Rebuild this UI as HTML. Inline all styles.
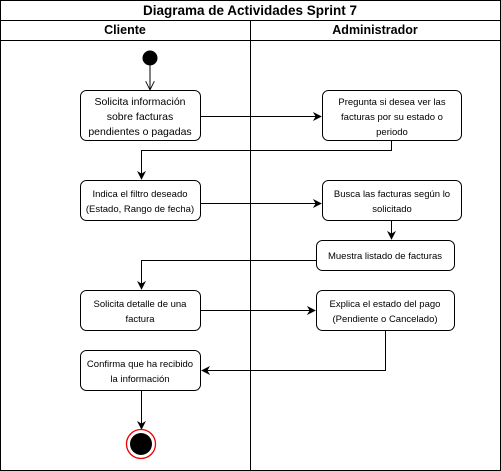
<!DOCTYPE html>
<html><head><style>body{margin:0;background:#fff}svg{display:block}text{font-family:"Liberation Sans",Arial,sans-serif;fill:#000}</style></head><body>
<svg width="501" height="471" viewBox="0 0 501 471" xmlns="http://www.w3.org/2000/svg">
<defs><marker id="a" viewBox="0 0 10 10" refX="9" refY="5" markerWidth="9" markerHeight="9" markerUnits="userSpaceOnUse" orient="auto"><path d="M0,0 L10,5 L0,10 L3,5 z" fill="#000"/></marker>
<marker id="o" viewBox="0 0 10 10" refX="9" refY="5" markerWidth="9" markerHeight="9" markerUnits="userSpaceOnUse" orient="auto"><path d="M0,0 L10,5 L0,10" fill="none" stroke="#000"/></marker></defs>
<rect x="0.5" y="0.5" width="500" height="470" fill="#fff" stroke="#000"/>
<line x1="0" y1="20.5" x2="501" y2="20.5" stroke="#000"/>
<line x1="0" y1="40.5" x2="501" y2="40.5" stroke="#000"/>
<line x1="250.5" y1="20" x2="250.5" y2="471" stroke="#000"/>
<text x="250" y="15" font-size="13.5" font-weight="bold" text-anchor="middle">Diagrama de Actividades Sprint 7</text>
<text x="125" y="34" font-size="12.5" font-weight="bold" text-anchor="middle">Cliente</text>
<text x="375" y="34" font-size="12.5" font-weight="bold" text-anchor="middle">Administrador</text>
<circle cx="150" cy="58" r="7.5" fill="#000"/>
<line x1="150" y1="65" x2="150" y2="89" stroke="#000" marker-end="url(#o)"/>
<g fill="#fff" stroke="#000">
<rect x="80.5" y="90.5" width="120" height="50" rx="6"/>
<rect x="322.5" y="90.5" width="139" height="50" rx="6"/>
<rect x="80.5" y="180.5" width="120" height="40" rx="6"/>
<rect x="322.5" y="180.5" width="139" height="40" rx="6"/>
<rect x="316.5" y="240.5" width="138" height="30" rx="6"/>
<rect x="80.5" y="290.5" width="120" height="40" rx="6"/>
<rect x="316.5" y="290.5" width="138" height="40" rx="6"/>
<rect x="80.5" y="350.5" width="120" height="40" rx="6"/>
</g>
<g fill="none" stroke="#000">
<path d="M200.5 116.5H321" marker-end="url(#a)"/>
<path d="M391.5 140.5V150.5H141.5V179" marker-end="url(#a)"/>
<path d="M200.5 203.5H321" marker-end="url(#a)"/>
<path d="M391.5 220.5V239" marker-end="url(#a)"/>
<path d="M316.5 260.5H141.5V289" marker-end="url(#a)"/>
<path d="M200.5 310.5H315" marker-end="url(#a)"/>
<path d="M385.5 330.5V370.5H202" marker-end="url(#a)"/>
<path d="M141.5 390.5V429" marker-end="url(#a)"/>
</g>
<circle cx="141" cy="444" r="14.5" fill="#fff" stroke="#e00" stroke-width="1.3"/>
<circle cx="141" cy="444" r="11" fill="#000"/>
<g font-size="10.5" text-anchor="middle">
<text x="140" y="105">Solicita información</text>
<text x="140" y="120">sobre facturas</text>
<text x="140" y="135">pendientes o pagadas</text>
</g>
<g font-size="9.5" text-anchor="middle">
<text x="392" y="105">Pregunta si desea ver las</text>
<text x="392" y="120">facturas por su estado o</text>
<text x="392" y="135">periodo</text>
<text x="140" y="197">Indica el filtro deseado</text>
<text x="140" y="212">(Estado, Rango de fecha)</text>
<text x="392" y="197">Busca las facturas según lo</text>
<text x="392" y="212">solicitado</text>
<text x="385" y="259">Muestra listado de facturas</text>
<text x="140" y="307">Solicita detalle de una</text>
<text x="140" y="322">factura</text>
<text x="385" y="307">Explica el estado del pago</text>
<text x="385" y="322">(Pendiente o Cancelado)</text>
<text x="140" y="367">Confirma que ha recibido</text>
<text x="140" y="382">la información</text>
</g>
</svg>
</body></html>
